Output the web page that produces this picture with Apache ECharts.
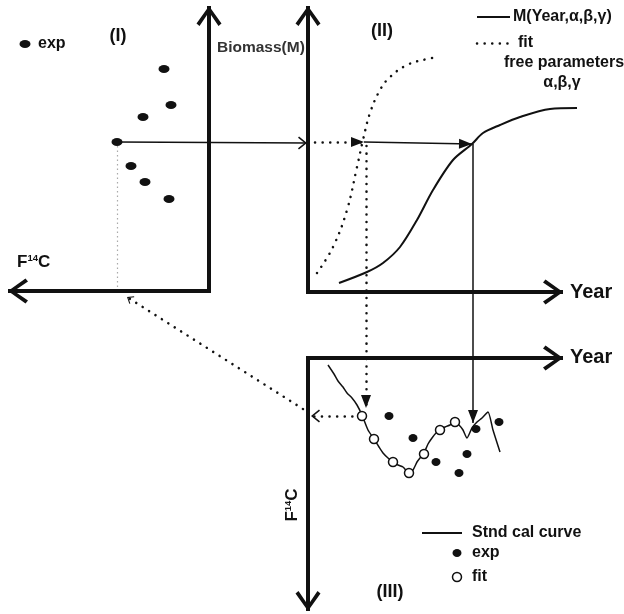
<!DOCTYPE html>
<html>
<head>
<meta charset="utf-8">
<script src="https://cdn.jsdelivr.net/npm/echarts@6/dist/echarts.min.js"></script>
<style>
html,body{margin:0;padding:0;background:#fff;}
#chart{width:624px;height:614px;}
</style>
</head>
<body>
<div id="chart"></div>
<script>
// ---------- data (diagram units) ----------
// Panel (I): experimental biomass vs F14C points
const expI = [[164,69],[171,105],[143,117],[117,142],[131,166],[145,182],[169,199]];
// Panel (II): biomass model curve M(Year,α,β,γ) and fitted curve
const curveM = [[339,283],[367,272],[383,263],[400,247],[417,220],[433,190],[453,160],[472,144],[483,133],[500,125],[520,117],[550,109],[577,108]];
const curveFit = [[317,273],[333,247],[347,210],[357,167],[363,140],[370,113],[380,90],[390,77],[407,65],[427,59],[438,57]];
// Panel (III): standard calibration curve, exp and fit points
const calCurve = [[328,365],[334,374],[338,381],[343,387],[347,393],[352,398],[357,405],[362,415],[368,430],[374,439],[379,447],[383,453],[388,458],[393,462],[398,465],[403,467],[409,473],[413,470],[417,462],[420,458],[424,453],[428,444],[432,438],[436,433],[440,430],[445,427],[450,425],[455,422],[459,425],[463,430],[467,438],[472,428],[477,422],[482,418],[488,412],[493,430],[500,452]];
const fitIII = [[362,416],[374,439],[393,462],[409,473],[424,454],[440,430],[455,422]];
const expIII = [[389,416],[413,438],[436,462],[459,473],[467,454],[476,429],[499,422]];
// axes (from origin to arrow tip)
const axesLines = [
  [[211,291],[8,291]], [[209,293],[209,6]],
  [[308,294],[308,6]], [[306,292],[563,292]],
  [[306,358],[563,358]], [[308,356],[308,611]]
];
// connectors
const solidChevron = [[[117,142],[307,143]]];
const dottedTriangle = [[[315,142],[364,142]], [[366,146],[366,408]]];
const solidTriangle = [[[364,142],[472,144]], [[473,144],[473,423]]];
const dottedChevron = [[[360,416],[311,416]]];
const dottedSmallChevron = [[[303,409],[127,297]]];
const grayDotted = [[[117,146],[117,291]]];
// legends
const legendTopSolid = [[[477,17],[510,17]]];
const legendTopDotted = [[[477,43],[510,43]]];
const legendIIISolid = [[[422,533],[462,533]]];
const legendIDot = [[25,44]];
const legendIIIDot = [[457,553]];
const legendIIICircle = [[457,577]];
// text labels [x, y, text, fontSize, align]
const textLabels = [
  [38,44,'exp',16,'left'],
  [118,36,'(I)',18,'center'],
  [382,31,'(II)',18,'center'],
  [390,592,'(III)',18,'center'],
  [217,48,'Biomass(M)',15.5,'left'],
  [570,292,'Year',20,'left'],
  [570,357,'Year',20,'left'],
  [513,17,'M(Year,α,β,γ)',16,'left'],
  [518,43,'fit',16,'left'],
  [504,63,'free parameters',16,'left'],
  [562,83,'α,β,γ',16,'center'],
  [472,533,'Stnd cal curve',16,'left'],
  [472,553,'exp',16,'left'],
  [472,577,'fit',16,'left']
];
// F14C labels [x, y, rotate, align]
const f14cLabels = [[17,262,0,'left'],[292,505,90,'center']];

// ---------- styles ----------
const INK = '#111';
const FONT = 'Liberation Sans, Arial, sans-serif';
const CHEV_THICK = 'path://M12,-20L12.01,-20M12,0L24.5,17.5L21.5,20L12,6L2.5,20L-0.5,17.5Z';
const CHEV_THIN = 'path://M6,-9L6.01,-9M6,0L12.5,8L11.2,9L6,2.4L0.8,9L-0.5,8Z';
const TRI = 'path://M5,-13L5.01,-13M5,0L10,13L0,13Z';
const DOTS = {type:[0.1,7.5], cap:'round'};

function linesSeries(items, lineStyle, symbol, size, z){
  return {
    type:'lines', coordinateSystem:'cartesian2d', silent:true, z:z||3,
    symbol:['none', symbol||'none'], symbolSize:[0, size||1],
    lineStyle:Object.assign({color:INK, opacity:1, curveness:0}, lineStyle),
    data: items.map(c => ({coords:c}))
  };
}

const series = [
  // axes
  linesSeries(axesLines, {width:4}, CHEV_THICK, [25,40], 5),
  // connectors
  linesSeries(solidChevron, {width:1.5}, CHEV_THIN, [13,18]),
  linesSeries(dottedTriangle, Object.assign({width:2.5}, DOTS), TRI, [10,26]),
  linesSeries(solidTriangle, {width:1.5}, TRI, [10,26]),
  linesSeries(dottedChevron, Object.assign({width:2.5}, DOTS), CHEV_THIN, [13,18]),
  linesSeries(dottedSmallChevron, Object.assign({width:2.5}, DOTS), CHEV_THIN, [9,12.5]),
  linesSeries(grayDotted, {width:1.2, color:'#aaa', type:[1.5,3]}),
  // legend lines
  linesSeries(legendTopSolid, {width:2}),
  linesSeries(legendTopDotted, Object.assign({width:2.5}, DOTS)),
  linesSeries(legendIIISolid, {width:2}),
  // curves
  {type:'line', data:curveM, smooth:0.3, showSymbol:false, silent:true, z:4,
   lineStyle:{color:INK, width:2}},
  {type:'line', data:curveFit, smooth:0.4, showSymbol:false, silent:true, z:4,
   lineStyle:Object.assign({color:INK, width:2.5}, DOTS)},
  {type:'line', data:calCurve, smooth:0.2, showSymbol:false, silent:true, z:4,
   lineStyle:{color:INK, width:1.5}},
  // points
  {type:'scatter', data:expI.concat(legendIDot), symbol:'circle', symbolSize:[11,8], silent:true, z:6,
   itemStyle:{color:INK, opacity:1}},
  {type:'scatter', data:expIII.concat(legendIIIDot), symbol:'circle', symbolSize:[9,8], silent:true, z:6,
   itemStyle:{color:INK, opacity:1}},
  {type:'scatter', data:fitIII.concat(legendIIICircle), symbol:'circle', symbolSize:9, silent:true, z:7,
   itemStyle:{color:'#fff', borderColor:INK, borderWidth:1.5, opacity:1}},
  // text
  {type:'scatter', symbolSize:0, silent:true, z:8, itemStyle:{color:INK, opacity:1},
   data: textLabels.map(t => ({
     value:[t[0],t[1]],
     label:{show:true, position:[0,0], formatter:t[2], align:t[4], verticalAlign:'middle',
            fontSize:t[3], fontWeight:'bold', fontFamily:FONT,
            textBorderWidth:0, textBorderColor:'transparent', textShadowBlur:0,
            color: t[2]==='Biomass(M)' ? '#333' : INK}
   }))},
  {type:'scatter', symbolSize:0, silent:true, z:8, itemStyle:{color:INK, opacity:1},
   data: f14cLabels.map(t => ({
     value:[t[0],t[1]],
     label:{show:true, position:[0,0], rotate:t[2], align:t[3], verticalAlign:'middle',
            textBorderWidth:0, textBorderColor:'transparent',
            formatter:'{f|F}{s|14}{f|C}',
            rich:{
              f:{fontSize:17, fontWeight:'bold', fontFamily:FONT, color:INK, textBorderWidth:0},
              s:{fontSize:9.5, fontWeight:'bold', fontFamily:FONT, color:INK, textBorderWidth:0, verticalAlign:'top'}
            }}
   }))}
];

const chart = echarts.init(document.getElementById('chart'), null, {renderer:'canvas'});
chart.setOption({
  animation:false,
  backgroundColor:'#fff',
  grid:{left:0, right:0, top:0, bottom:0},
  xAxis:{type:'value', min:0, max:624, show:false},
  yAxis:{type:'value', min:0, max:614, inverse:true, show:false},
  series: series
});
</script>
</body>
</html>
